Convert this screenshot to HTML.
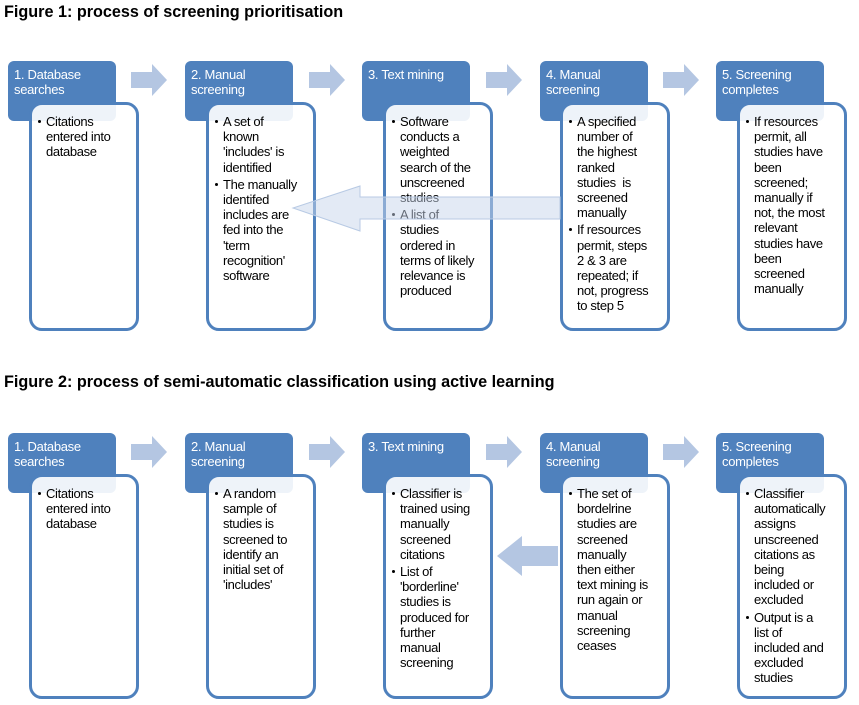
<!DOCTYPE html>
<html><head><meta charset="utf-8"><style>
*{margin:0;padding:0;box-sizing:border-box}
body{width:859px;height:705px;background:#fff;position:relative;overflow:hidden;font-family:"Liberation Sans",sans-serif}
.t{position:absolute;left:4px;font-weight:bold;font-size:16.2px;letter-spacing:0px;color:#000}
.h{position:absolute;width:108px;height:60px;background:#4f81bd;border-radius:6px;color:#fff;font-size:13px;letter-spacing:-0.3px;line-height:15px;padding:6px 0 0 6px}
.b{position:absolute;width:110px;background:rgba(255,255,255,0.9);border:3px solid #4f81bd;border-radius:13px;font-size:13px;letter-spacing:-0.35px;line-height:15.2px;color:#000;padding:9px 0 0 6px}
.b p{position:relative;padding-left:8px;margin-bottom:2px;white-space:nowrap}
.b p:before{content:"";position:absolute;left:0;top:6px;width:3px;height:3px;background:#000;border-radius:50%}
.a{position:absolute}
</style></head><body>
<div class="t" style="top:3px">Figure 1: process of screening prioritisation</div>
<div class="t" style="top:373px">Figure 2: process of semi-automatic classification using active learning</div>

<svg class="a" style="left:0;top:0" width="859" height="705">
<g fill="#b4c6e2">
<polygon points="131,72 152,72 152,64 167,80 152,96 152,88 131,88"/>
<polygon points="309,72 330,72 330,64 345,80 330,96 330,88 309,88"/>
<polygon points="486,72 507,72 507,64 522,80 507,96 507,88 486,88"/>
<polygon points="663,72 684,72 684,64 699,80 684,96 684,88 663,88"/>
<polygon points="131,444 152,444 152,436 167,452 152,468 152,460 131,460"/>
<polygon points="309,444 330,444 330,436 345,452 330,468 330,460 309,460"/>
<polygon points="486,444 507,444 507,436 522,452 507,468 507,460 486,460"/>
<polygon points="663,444 684,444 684,436 699,452 684,468 684,460 663,460"/>
</g>
</svg>

<div class="h" style="left:8px;top:61px">1. Database<br>searches</div>
<div class="h" style="left:185px;top:61px">2. Manual<br>screening</div>
<div class="h" style="left:362px;top:61px">3. Text mining</div>
<div class="h" style="left:540px;top:61px">4. Manual<br>screening</div>
<div class="h" style="left:716px;top:61px">5. Screening<br>completes</div>

<div class="b" style="left:29px;top:102px;height:229px"><p>Citations<br>entered into<br>database</p></div>
<div class="b" style="left:206px;top:102px;height:229px"><p>A set of<br>known<br>'includes' is<br>identified</p><p>The manually<br>identifed<br>includes are<br>fed into the<br>'term<br>recognition'<br>software</p></div>
<div class="b" style="left:383px;top:102px;height:229px"><p>Software<br>conducts a<br>weighted<br>search of the<br>unscreened<br>studies</p><p>A list of<br>studies<br>ordered in<br>terms of likely<br>relevance is<br>produced</p></div>
<div class="b" style="left:560px;top:102px;height:229px"><p>A specified<br>number of<br>the highest<br>ranked<br>studies &nbsp;is<br>screened<br>manually</p><p>If resources<br>permit, steps<br>2 &amp; 3 are<br>repeated; if<br>not, progress<br>to step 5</p></div>
<div class="b" style="left:737px;top:102px;height:229px"><p>If resources<br>permit, all<br>studies have<br>been<br>screened;<br>manually if<br>not, the most<br>relevant<br>studies have<br>been<br>screened<br>manually</p></div>

<div class="h" style="left:8px;top:433px">1. Database<br>searches</div>
<div class="h" style="left:185px;top:433px">2. Manual<br>screening</div>
<div class="h" style="left:362px;top:433px">3. Text mining</div>
<div class="h" style="left:540px;top:433px">4. Manual<br>screening</div>
<div class="h" style="left:716px;top:433px">5. Screening<br>completes</div>

<div class="b" style="left:29px;top:474px;height:225px"><p>Citations<br>entered into<br>database</p></div>
<div class="b" style="left:206px;top:474px;height:225px"><p>A random<br>sample of<br>studies is<br>screened to<br>identify an<br>initial set of<br>'includes'</p></div>
<div class="b" style="left:383px;top:474px;height:225px"><p>Classifier is<br>trained using<br>manually<br>screened<br>citations</p><p>List of<br>'borderline'<br>studies is<br>produced for<br>further<br>manual<br>screening</p></div>
<div class="b" style="left:560px;top:474px;height:225px"><p>The set of<br>bordelrine<br>studies are<br>screened<br>manually<br>then either<br>text mining is<br>run again or<br>manual<br>screening<br>ceases</p></div>
<div class="b" style="left:737px;top:474px;height:225px"><p>Classifier<br>automatically<br>assigns<br>unscreened<br>citations as<br>being<br>included or<br>excluded</p><p>Output is a<br>list of<br>included and<br>excluded<br>studies</p></div>

<svg class="a" style="left:0;top:0" width="859" height="705">
<polygon points="560,197 360,197 360,186 293,208 360,231 360,219 560,219" fill="rgba(200,214,236,0.5)" stroke="#b8cae4" stroke-width="1"/>
<polygon points="558,546 522,546 522,536 497,556 522,576 522,566 558,566" fill="#b4c6e2"/>
</svg>
</body></html>
